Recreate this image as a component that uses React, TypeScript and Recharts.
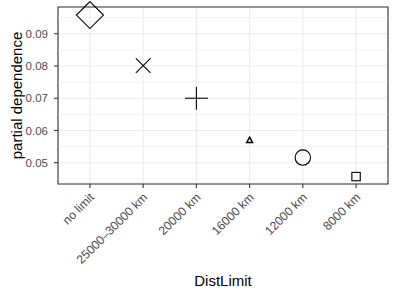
import { ScatterChart, Scatter, XAxis, YAxis, CartesianGrid, ReferenceLine, ReferenceArea } from 'recharts'

const categories = ['no limit', '25000–30000 km', '20000 km', '16000 km', '12000 km', '8000 km']
const partialDependence = [0.0958, 0.0801, 0.07, 0.057, 0.0516, 0.0457]
const yTicks = [0.05, 0.06, 0.07, 0.08, 0.09]
const yMinorTicks = [0.045, 0.055, 0.065, 0.075, 0.085, 0.095]

// marker per category (shape + half size in px)
const MARKERS = [
  { shape: 'diamond', r: 13.5 },
  { shape: 'cross', r: 7.3 },
  { shape: 'plus', r: 11.5 },
  { shape: 'triangle', r: 3 },
  { shape: 'circle', r: 7.7 },
  { shape: 'square', r: 4.2 },
]

const FONT = '"Liberation Sans", Arial, sans-serif'
const Y_DOMAIN: [number, number] = [0.0434, 0.0983]

const data = categories.map((name, i) => ({ idx: i, name, pd: partialDependence[i] }))

function Marker(props: any) {
  const { cx, cy, payload } = props
  const m = MARKERS[payload.idx]
  const r = m.r
  const common = { fill: 'none', stroke: '#000', strokeWidth: 1.1 }
  switch (m.shape) {
    case 'diamond':
      return <polygon points={`${cx},${cy - r} ${cx + r},${cy} ${cx},${cy + r} ${cx - r},${cy}`} {...common} />
    case 'cross':
      return (
        <g {...common}>
          <line x1={cx - r} y1={cy - r} x2={cx + r} y2={cy + r} />
          <line x1={cx - r} y1={cy + r} x2={cx + r} y2={cy - r} />
        </g>
      )
    case 'plus':
      return (
        <g {...common}>
          <line x1={cx - r} y1={cy} x2={cx + r} y2={cy} />
          <line x1={cx} y1={cy - r} x2={cx} y2={cy + r} />
        </g>
      )
    case 'triangle':
      return <polygon points={`${cx},${cy - r} ${cx + r},${cy + r * 0.8} ${cx - r},${cy + r * 0.8}`} {...common} strokeWidth={1.4} />
    case 'circle':
      return <circle cx={cx} cy={cy} r={r} {...common} />
    default:
      return <rect x={cx - r} y={cy - r} width={2 * r} height={2 * r} {...common} />
  }
}

function XTick(props: any) {
  const { x, y, payload } = props
  const ax = x + 5
  const ay = y + 8
  return (
    <text x={ax} y={ay} transform={`rotate(-45, ${ax}, ${ay})`} textAnchor="end" fill="#4d4d4d" fontSize={12.2} fontFamily={FONT}>
      {categories[payload.value]}
    </text>
  )
}

export default function App() {
  return (
    <div style={{ position: 'absolute', left: 0, top: 0, background: '#fff' }}>
      <ScatterChart width={395} height={296} margin={{ top: 7, right: 7, left: 0, bottom: 0 }}>
        <CartesianGrid stroke="#ebebeb" strokeWidth={1.1} />
        {yMinorTicks.map((v) => (
          <ReferenceLine key={v} y={v} stroke="#ebebeb" strokeWidth={0.6} />
        ))}
        <XAxis
          type="number"
          dataKey="idx"
          domain={[-0.6, 5.6]}
          ticks={[0, 1, 2, 3, 4, 5]}
          interval={0}
          height={112}
          axisLine={false}
          tickLine={{ stroke: '#333333', strokeWidth: 1.1 }}
          tickSize={4}
          tick={<XTick />}
          label={{ value: 'DistLimit', position: 'insideBottom', offset: 10, fill: '#000', fontSize: 15, fontFamily: FONT }}
        />
        <YAxis
          type="number"
          dataKey="pd"
          domain={Y_DOMAIN}
          ticks={yTicks}
          width={58}
          axisLine={false}
          tickLine={{ stroke: '#333333', strokeWidth: 1.1 }}
          tickSize={4}
          tickMargin={6}
          tickFormatter={(v: number) => v.toFixed(2)}
          tick={{ fill: '#4d4d4d', fontSize: 11.5, fontFamily: FONT }}
          label={{ value: 'partial dependence', angle: -90, position: 'insideLeft', offset: 17, fill: '#000', fontSize: 15, fontFamily: FONT, style: { textAnchor: 'middle' } }}
        />
        <Scatter data={data} shape={<Marker />} isAnimationActive={false} />
        <ReferenceArea x1={-0.6} x2={5.6} y1={Y_DOMAIN[0]} y2={Y_DOMAIN[1]} fill="none" stroke="#333333" strokeWidth={1.1} />
      </ScatterChart>
    </div>
  )
}
